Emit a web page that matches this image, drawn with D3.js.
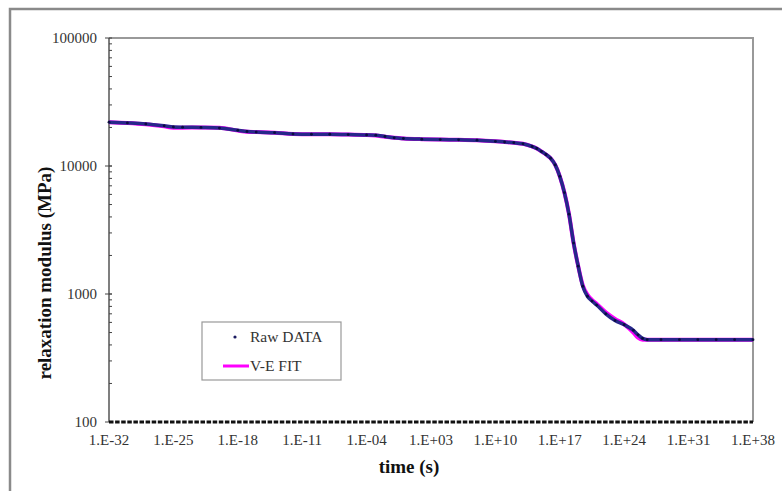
<!DOCTYPE html>
<html><head><meta charset="utf-8">
<script src="https://cdn.jsdelivr.net/npm/d3@7/dist/d3.min.js"></script>
<style>body{margin:0;background:#fff}svg{display:block}</style>
</head><body>
<script>
// ---- data ----
const rawLogTime = [-32,-30,-28,-26,-25,-24,-22,-20,-18,-17,-16,-14,-12,-10,-8,-6,-4,-3,-2,-1,0,2,4,6,8,10,11,12,13,14,14.5,15,15.5,16,16.5,17,17.5,18,18.5,19,19.5,20,20.5,21,22,23,24,25,25.5,26,26.5,28,30,32,34,36,38];
const rawModulus = [22000,21700,21300,20600,20200,20100,20000,19800,19000,18600,18400,18200,17800,17700,17700,17600,17500,17400,17000,16600,16400,16200,16100,16000,15900,15600,15400,15200,14900,14200,13700,13000,12300,11500,10200,8300,6200,4200,2500,1650,1150,960,880,820,700,620,575,520,480,450,440,440,440,440,440,440,440];
const fitLogTime = [-32,-30,-28,-26,-25,-24,-22,-20,-18,-17,-16,-14,-12,-10,-8,-6,-4,-3,-2,-1,0,2,4,6,8,10,11,12,13,14,14.5,15,15.5,16,16.5,17,17.5,18,18.5,19,19.5,20,20.5,21,22,23,24,25,25.5,26,26.5,28,30,32,34,36,38];
const fitModulus = [22000,21700,21200,20400,19900,19900,20000,19900,18900,18500,18400,18200,17800,17700,17700,17600,17500,17300,16900,16600,16400,16200,16100,16000,15900,15600,15400,15200,14900,14200,13700,13000,12300,11500,10200,8300,6200,4200,2500,1650,1170,990,900,840,720,640,580,500,455,440,440,440,440,440,440,440,440];
const xTickExponents = [-32,-25,-18,-11,-4,3,10,17,24,31,38];
const xTickLabels = ["1.E-32","1.E-25","1.E-18","1.E-11","1.E-04","1.E+03","1.E+10","1.E+17","1.E+24","1.E+31","1.E+38"];
const yTickValues = [100,1000,10000,100000];
const yTickLabels = ["100","1000","10000","100000"];
const legendLabels = ["Raw DATA","V-E FIT"];

// ---- layout ----
const W = 782, H = 491;
const L = 109, R = 753, T = 38, B = 422;
const svg = d3.select("body").append("svg").attr("width", W).attr("height", H);

// outer border
svg.append("rect").attr("x",10).attr("y",9).attr("width",800).attr("height",520)
  .attr("fill","none").attr("stroke","#8a8a8a").attr("stroke-width",2.5);

const x = d3.scaleLinear().domain([-32,38]).range([L,R]);
const y = d3.scaleLog().domain([100,100000]).range([B,T]);

// plot frame (top/right gray)
svg.append("path").attr("d",`M${L},${T}H${R}V${B}`).attr("fill","none")
  .attr("stroke","#999").attr("stroke-width",2);

// y axis
const minorY = [];
for (let d=100; d<100000; d*=10) for (let k=1;k<=10;k++) minorY.push(d*k);
const yAxis = svg.append("g");
yAxis.append("line").attr("x1",L).attr("x2",L).attr("y1",T).attr("y2",B)
  .attr("stroke","#555").attr("stroke-width",1.5);
yAxis.selectAll("line.minor").data(minorY).enter().append("line").attr("class","minor")
  .attr("x1",L).attr("x2",L+3).attr("y1",d=>y(d)).attr("y2",d=>y(d))
  .attr("stroke","#444").attr("stroke-width",1);
yAxis.selectAll("line.major").data(yTickValues).enter().append("line").attr("class","major")
  .attr("x1",L-4).attr("x2",L).attr("y1",d=>y(d)).attr("y2",d=>y(d))
  .attr("stroke","#444").attr("stroke-width",1);
yAxis.selectAll("text").data(yTickValues).enter().append("text")
  .attr("x",L-12).attr("y",d=>y(d)).attr("dy","0.35em").attr("text-anchor","end")
  .attr("font-family","Liberation Serif").attr("font-size",15).attr("fill","#333")
  .text((d,i)=>yTickLabels[i]);

// x axis (dashed black baseline)
const xAxis = svg.append("g");
xAxis.append("line").attr("x1",L).attr("x2",R).attr("y1",B).attr("y2",B)
  .attr("stroke","#111").attr("stroke-width",3).attr("stroke-dasharray","4.5,1.6");
xAxis.selectAll("text").data(xTickExponents).enter().append("text")
  .attr("x",d=>x(d)).attr("y",B+23).attr("text-anchor","middle")
  .attr("font-family","Liberation Serif").attr("font-size",15).attr("fill","#333")
  .text((d,i)=>xTickLabels[i]);

// titles
svg.append("text").attr("x",409).attr("y",473).attr("text-anchor","middle")
  .attr("font-family","Liberation Serif").attr("font-weight","bold").attr("font-size",19)
  .attr("fill","#111").text("time (s)");
svg.append("text").attr("transform","translate(51,273) rotate(-90)").attr("text-anchor","middle")
  .attr("font-family","Liberation Serif").attr("font-weight","bold").attr("font-size",19)
  .attr("fill","#111").text("relaxation modulus (MPa)");

// series
const fitPts = fitLogTime.map((t,i)=>[t,fitModulus[i]]);
const rawPts = rawLogTime.map((t,i)=>[t,rawModulus[i]]);
const line = d3.line().x(d=>x(d[0])).y(d=>y(d[1])).curve(d3.curveMonotoneX);
svg.append("path").attr("d",line(fitPts)).attr("fill","none")
  .attr("stroke","#ff00ff").attr("stroke-width",4);
svg.append("path").attr("d",line(rawPts)).attr("fill","none")
  .attr("stroke","#27278a").attr("stroke-width",3.5);
svg.selectAll("circle.raw").data(rawPts).enter().append("circle").attr("class","raw")
  .attr("cx",d=>x(d[0])).attr("cy",d=>y(d[1])).attr("r",1.4).attr("fill","#0b0b40");

// legend
const lg = svg.append("g");
lg.append("rect").attr("x",202).attr("y",322).attr("width",139).attr("height",58)
  .attr("fill","#fff").attr("stroke","#999").attr("stroke-width",1.2);
lg.append("circle").attr("cx",235).attr("cy",337).attr("r",1.6).attr("fill","#1a1a60");
lg.append("text").attr("x",250).attr("y",342).attr("font-family","Liberation Serif")
  .attr("font-size",15.5).attr("fill","#333").text(legendLabels[0]);
lg.append("line").attr("x1",223).attr("x2",249).attr("y1",366).attr("y2",366)
  .attr("stroke","#ff00ff").attr("stroke-width",3);
lg.append("text").attr("x",250).attr("y",371).attr("font-family","Liberation Serif")
  .attr("font-size",15.5).attr("fill","#333").text(legendLabels[1]);
</script>
</body></html>
